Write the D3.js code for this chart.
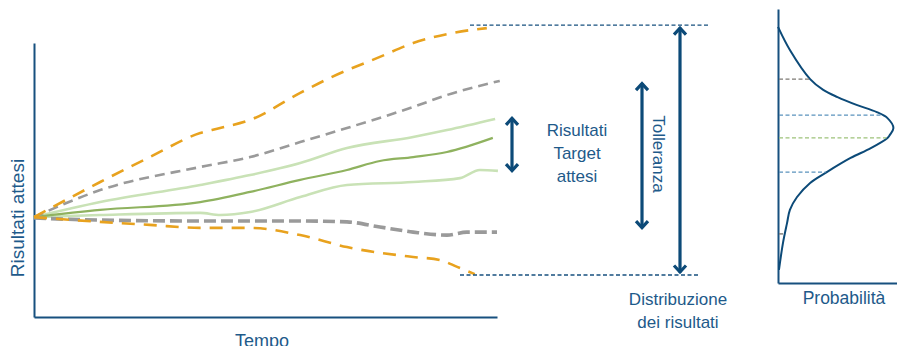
<!DOCTYPE html>
<html><head><meta charset="utf-8">
<script src="https://cdn.jsdelivr.net/npm/d3@7"></script>
<style>
html,body{margin:0;padding:0;background:#fff;}
svg{display:block;font-family:"Liberation Sans",Arial,Helvetica,sans-serif;}
</style></head>
<body>
<svg id="chart" width="897" height="346"></svg>
<script>
// ---- data: [time, value] ----
const orangeUpper = [[0,33.3],[1.43,45],[2.5,53.3],[3.59,61.3],[4.02,63],[4.67,65.7],[5.75,74.7],[6.39,79.7],[7.47,86.7],[8.19,91.3],[9.05,94.7],[9.78,96.3]];
const grayUpper   = [[0,33.3],[1.43,42.3],[3.59,50],[4.67,53.3],[5.75,58.3],[6.76,63],[8.19,70],[8.92,74],[10.06,78.7]];
const greenUpper  = [[0,33.3],[1.43,38.3],[3.59,44],[4.67,47.3],[5.75,51.3],[6.76,56.3],[8.19,60],[8.92,62.3],[9.96,66]];
const greenMid    = [[0,33.3],[1.43,35.7],[3.59,38.3],[4.67,41.7],[5.75,45.7],[6.76,49],[7.47,52],[8.19,53.3],[8.92,55],[9.91,59.7]];
const greenLower  = [[0,33.3],[1.43,34],[3.59,34.7],[4.02,34],[4.67,35],[5.75,40],[6.76,44],[8.19,45],[9.2,46.3],[9.63,49],[10.02,48.7]];
const grayLower   = [[0,33],[1.43,32.3],[3.59,32],[5.75,32],[6.76,31.7],[7.47,30],[8.19,28.3],[8.92,27.3],[9.35,28.3],[10,28.3]];
const orangeLower = [[0,33.3],[1.43,31.7],[2.5,30.7],[3.59,29.7],[4.67,29.7],[5.75,27.3],[6.76,23.3],[8.19,20],[8.77,19],[9.14,16.7],[9.52,14.3]];

// distribution of results: value -> probability
const distValues = [96.7,89,79.3,75.7,73.3,70.7,68.3,66.3,63,60.7,59.7,56.3,53,48.3,44.7,40,35.7,31.3,24.7,15.7];
const distProb   = [0,0.10,0.27,0.38,0.50,0.66,0.83,0.92,0.97,0.94,0.92,0.78,0.61,0.41,0.27,0.16,0.10,0.076,0.042,0.008];
const distMarks  = [79.3, 67.3, 59.7, 48.3, 27.7];

const tolerance = [14, 97.3];      // outer range
const tolArrow  = [29.3, 78.3];    // "Tolleranza"
const targetArrow = [48.3, 66.7];  // "Risultati Target attesi"

// ---- scales ----
const svg = d3.select("#chart");
const x = d3.scaleLinear().domain([0,10]).range([34,497]);
const y = d3.scaleLinear().domain([0,91.33]).range([317,43]);
const px = d3.scaleLinear().domain([0,1]).range([778,897]);

const AX = "#17507f", TXT = "#1e5a8a";

// axes (no ticks)
svg.append("g").attr("transform","translate(34,0)")
  .call(d3.axisLeft(y).tickValues([]).tickSizeOuter(0))
  .select(".domain").attr("stroke",AX).attr("stroke-width",2);
svg.append("g").attr("transform","translate(0,317)")
  .call(d3.axisBottom(x).tickValues([]).tickSizeOuter(0))
  .select(".domain").attr("stroke",AX).attr("stroke-width",2);

const yR = d3.scaleLinear().domain([11.33,102.67]).range([y(11.33),y(102.67)]);
svg.append("g").attr("transform","translate(778,0)")
  .call(d3.axisLeft(yR).tickValues([]).tickSizeOuter(0))
  .select(".domain").attr("stroke",AX).attr("stroke-width",2);
const pxAxis = d3.scaleLinear().domain([0,1]).range([778,897]);
svg.append("g").attr("transform","translate(0,"+y(11.33)+")")
  .call(d3.axisBottom(pxAxis).tickValues([]).tickSizeOuter(0))
  .select(".domain").attr("stroke",AX).attr("stroke-width",2);

// series
const line = d3.line().x(d=>x(d[0])).y(d=>y(d[1])).curve(d3.curveMonotoneX);
const series = [
  {d:greenUpper, c:"#c9e2b6", w:2.6, dash:null},
  {d:greenLower, c:"#c9e2b6", w:2.6, dash:null},
  {d:greenMid,   c:"#8fb25f", w:2.2, dash:null},
  {d:grayUpper,  c:"#9a9a9a", w:2.6, dash:"10,6"},
  {d:grayLower,  c:"#9a9a9a", w:3.6, dash:"12,5"},
  {d:orangeUpper,c:"#e8a21e", w:2.6, dash:"13,9"},
  {d:orangeLower,c:"#e8a21e", w:2.6, dash:"13,9"}
];
svg.append("g").selectAll("path").data(series).join("path")
  .attr("d",s=>line(s.d)).attr("fill","none")
  .attr("stroke",s=>s.c).attr("stroke-width",s=>s.w)
  .attr("stroke-dasharray",s=>s.dash);

// tolerance dashed lines
svg.append("line").attr("x1",470).attr("x2",710).attr("y1",y(tolerance[1])).attr("y2",y(tolerance[1]))
  .attr("stroke",AX).attr("stroke-width",1.3).attr("stroke-dasharray","4,2.5");
svg.append("line").attr("x1",460).attr("x2",700).attr("y1",y(tolerance[0])).attr("y2",y(tolerance[0]))
  .attr("stroke",AX).attr("stroke-width",1.3).attr("stroke-dasharray","4,2.5");

// double arrows
function dblArrow(cx, v0, v1){
  const yt = y(v1), yb = y(v0), hw = 6, hl = 8;
  const g = svg.append("g").attr("stroke","#0c4a78").attr("stroke-width",3.2).attr("fill","none")
    .attr("stroke-linecap","butt").attr("stroke-linejoin","miter");
  g.append("line").attr("x1",cx).attr("x2",cx).attr("y1",yt+1).attr("y2",yb-1);
  g.append("path").attr("d",`M${cx-hw},${yt+hl}L${cx},${yt+1.5}L${cx+hw},${yt+hl}`);
  g.append("path").attr("d",`M${cx-hw},${yb-hl}L${cx},${yb-1.5}L${cx+hw},${yb-hl}`);
}
dblArrow(512, targetArrow[0], targetArrow[1]);
dblArrow(642, tolArrow[0], tolArrow[1]);
dblArrow(680, tolerance[0]+0.5, tolerance[1]-0.5);

// distribution curve
const dist = distValues.map((v,i)=>[distProb[i], v]);
svg.append("path")
  .attr("d", d3.line().x(d=>px(d[0])).y(d=>y(d[1])).curve(d3.curveCatmullRom.alpha(0.5))(dist))
  .attr("fill","none").attr("stroke","#0c4a78").attr("stroke-width",2);

function probAt(v){
  for(let i=0;i<dist.length-1;i++){
    const a=dist[i], b=dist[i+1];
    if((v<=a[1]&&v>=b[1])){ const t=(v-a[1])/(b[1]-a[1]); return a[0]+t*(b[0]-a[0]); }
  }
  return 0;
}
const markColors = ["#7d7a74","#5b93bd","#9dc27a","#5b93bd","#7d7a74"];
svg.append("g").selectAll("line").data(distMarks).join("line")
  .attr("x1",px(0)+1).attr("x2",v=>px(probAt(v))-1)
  .attr("y1",v=>y(v)).attr("y2",v=>y(v))
  .attr("stroke",(v,i)=>markColors[i]).attr("stroke-width",1.4).attr("stroke-dasharray","4,2.5");

// texts
const T = (txt,xp,yp,size,anchor="middle") => svg.append("text").text(txt)
  .attr("x",xp).attr("y",yp).attr("font-size",size).attr("fill",TXT).attr("text-anchor",anchor);
T("Tempo",262,347,18);
svg.append("text").text("Risultati attesi").attr("transform","translate(24,218) rotate(-90)")
  .attr("text-anchor","middle").attr("font-size",19).attr("fill",TXT);
T("Risultati",577,136,17); T("Target",577,159,17); T("attesi",577,182,17);
svg.append("text").text("Tolleranza").attr("transform","translate(653,154) rotate(90)")
  .attr("text-anchor","middle").attr("font-size",17).attr("fill",TXT);
T("Distribuzione",678,305,17); T("dei risultati",678,328,17);
T("Probabilità",844,304,17.5);
</script>
</body></html>
